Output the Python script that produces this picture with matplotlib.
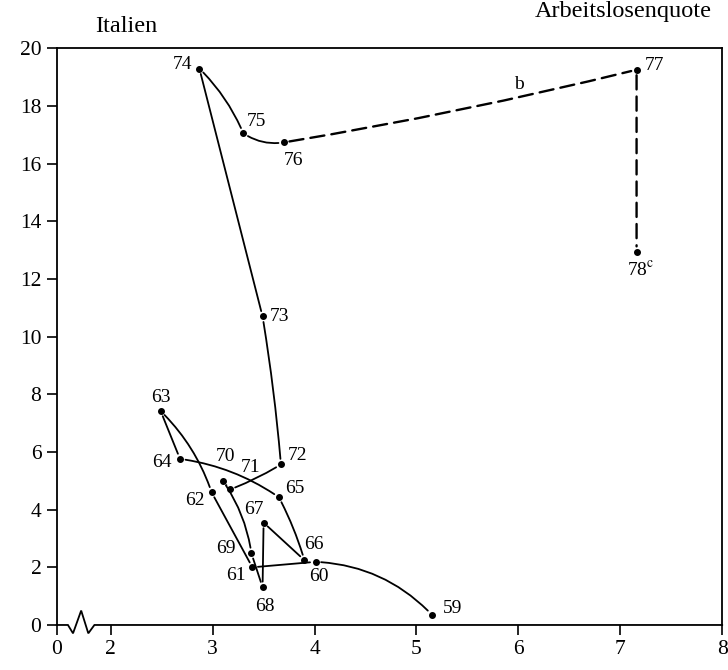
import numpy as np
import matplotlib.pyplot as plt
from matplotlib.patches import FancyArrowPatch

plt.rcParams['font.family'] = ['Liberation Serif', 'DejaVu Serif']
plt.rcParams['mathtext.fontset'] = 'stix'

# Italien: Arbeitslosenquote (x) gegen Inflationsrate (y), 1959-1978
years = ['59', '60', '61', '62', '63', '64', '65', '66', '67', '68',
         '69', '70', '71', '72', '73', '74', '75', '76', '77', '78']
year_labels = years[:-1] + [r'78$^{\rm c}$']
unemployment = [5.15, 4.01, 3.39, 2.99, 2.49, 2.68, 3.65, 3.90, 3.50, 3.49,
                3.38, 3.10, 3.17, 3.67, 3.49, 2.87, 3.30, 3.70, 7.16, 7.16]
inflation = [0.36, 2.19, 2.00, 4.60, 7.42, 5.76, 4.43, 2.25, 3.55, 1.31,
             2.49, 5.00, 4.70, 5.57, 10.70, 19.30, 17.06, 16.74, 19.26, 12.94]
xticks = [2, 3, 4, 5, 6, 7, 8]
yticks = [0, 2, 4, 6, 8, 10, 12, 14, 16, 18, 20]

# style: curvature of each connecting segment, label offsets (pixels)
bends = [0.2, 0.0, 0.0, 0.12, 0.0, -0.12, -0.05, 0.0, 0.0, 0.0,
         0.12, 0.0, 0.05, 0.02, 0.0, -0.1, 0.2, 0.02, 0.0]
first_dashed = 17  # 76 -> 77 onwards
offsets = [(21, 6), (3, -15), (-16, -8), (-17, -8), (0, 14), (-18, -4),
           (16, 9), (10, 16), (-10, 13), (2, -19), (-25, 5), (3, 24),
           (21, 22), (17, 9), (17, 0), (-17, 4), (13, 12), (10, -18),
           (18, 4), (4, -18)]

x0 = 1.47  # where "0" sits on the broken x axis

fig = plt.figure(figsize=(7.28, 6.70), dpi=100)
ax = fig.add_axes([0.0779, 0.0672, 0.9141, 0.8606])
ax.set_xlim(x0, 8)
ax.set_ylim(0, 20)

ax.set_xticks([x0] + xticks)
ax.set_xticklabels(['0'] + [str(t) for t in xticks])
ax.set_yticks(yticks)
ax.tick_params(direction='out', length=7, width=1.2, labelsize=15.5, pad=4)
for s in ax.spines.values():
    s.set_linewidth(1.3)
ax.spines['bottom'].set_visible(False)

# x axis with the break zigzag
zx = [x0, 1.58, 1.63, 1.71, 1.78, 1.84, 8]
zy = [0, 0, -0.29, 0.5, -0.29, 0, 0]
ax.plot(zx, zy, color='black', lw=1.3, clip_on=False, solid_joinstyle='miter')

# connecting curves
for i in range(len(years) - 1):
    dashed = i >= first_dashed
    p = FancyArrowPatch((unemployment[i], inflation[i]),
                        (unemployment[i + 1], inflation[i + 1]),
                        arrowstyle='-', connectionstyle=f'arc3,rad={bends[i]}',
                        shrinkA=4, shrinkB=4, color='black',
                        lw=1.7 if dashed else 1.3,
                        linestyle=(0, (6, 3)) if dashed else '-')
    ax.add_patch(p)

ax.plot(unemployment, inflation, 'o', color='black', ms=4, ls='none')

for lab, x, y, off in zip(year_labels, unemployment, inflation, offsets):
    ax.annotate(lab, (x, y), xytext=off, textcoords='offset pixels',
                ha='center', va='center', fontsize=14)

ax.text(6.01, 18.75, 'b', ha='center', va='center', fontsize=14)

fig.text(0.174, 0.952, 'Italien', ha='center', va='baseline', fontsize=17.5)
fig.text(0.735, 0.975, 'Arbeitslosenquote', ha='left', va='baseline',
         fontsize=17.5)

fig.savefig('out.png', dpi=100)
